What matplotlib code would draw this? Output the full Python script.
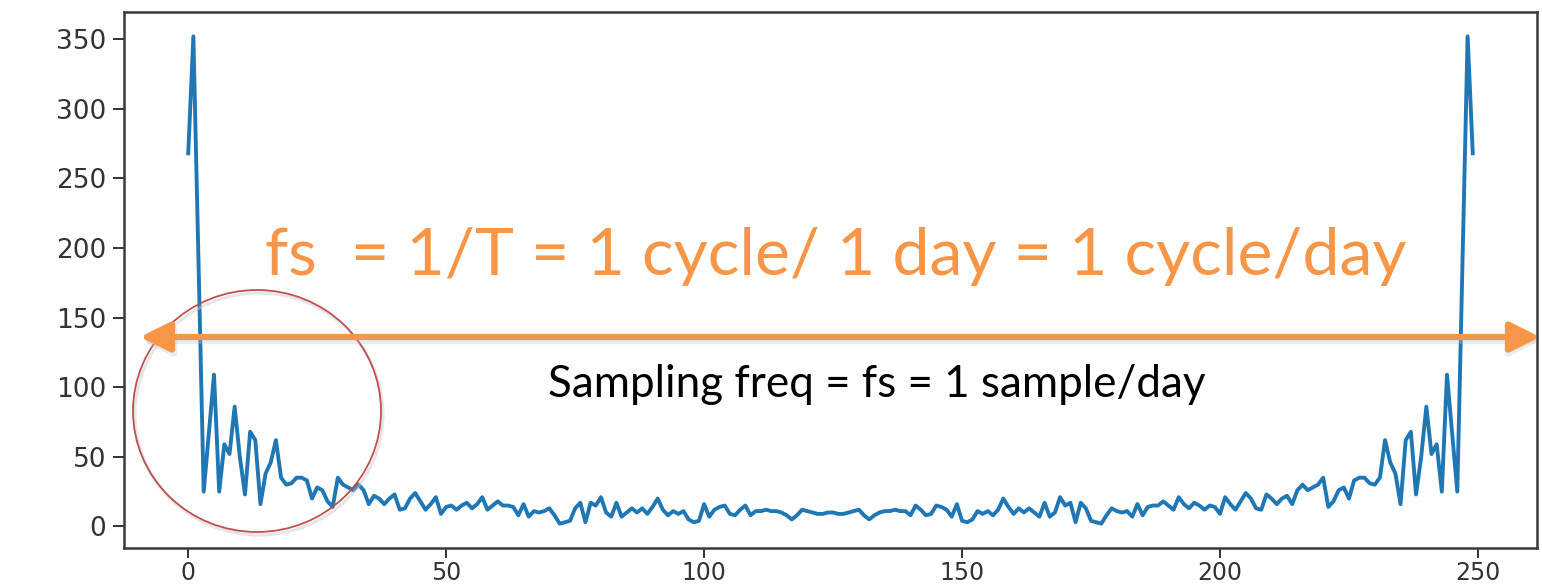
import matplotlib
matplotlib.use("Agg")
import matplotlib.pyplot as plt
from matplotlib.patches import Ellipse, FancyArrowPatch, ArrowStyle
import numpy as np

# Left half of the (mirror-symmetric) spectrum magnitude, index 0..124
half_values = [
    268, 352, 190, 25, 67, 109, 25, 59, 52, 86,
    50, 23, 68, 62, 16, 38, 46, 62, 35, 30,
    31, 35, 35, 33, 20, 28, 26, 18, 14, 35,
    30, 28, 26, 30, 26, 16, 22, 20, 16, 20,
    23, 12, 13, 20, 24, 18, 12, 16, 21, 9,
    14, 15, 12, 15, 17, 13, 16, 21, 12, 15,
    18, 15, 15, 14, 8, 16, 7, 11, 10, 11,
    13, 8, 2, 3, 4, 13, 17, 3, 17, 15,
    21, 10, 7, 17, 7, 10, 13, 10, 13, 9,
    14, 20, 12, 8, 11, 9, 11, 5, 3, 4,
    16, 7, 12, 14, 15, 9, 8, 12, 15, 8,
    11, 11, 12, 11, 11, 10, 8, 5, 8, 12,
    11, 10, 9, 9, 10,
]
values = half_values + half_values[::-1]
freq_index = list(range(len(values)))

x_ticks = [0, 50, 100, 150, 200, 250]
y_ticks = [0, 50, 100, 150, 200, 250, 300, 350]

title_text = "fs  = 1/T = 1 cycle/ 1 day = 1 cycle/day"
note_text = "Sampling freq = fs = 1 sample/day"

W, H = 1542, 587
fig = plt.figure(figsize=(W / 100, H / 100), dpi=100)
ax = fig.add_axes([124 / W, 1 - 548 / H, (1537 - 124) / W, (548 - 12) / H])

ax.plot(freq_index, values, color="#1f77b4", lw=2.8)
ax.set_xticks(x_ticks)
ax.set_yticks(y_ticks)
ax.tick_params(axis="y", labelsize=19, length=8, width=1.4,
               colors="#333333", pad=5)
ax.tick_params(axis="x", labelsize=17, length=7, width=1.4,
               colors="#333333", pad=2)
for s in ax.spines.values():
    s.set_color("#3a3a3a")
    s.set_linewidth(1.8)

def fx(px):
    return px / W

def fy(py):
    return 1 - py / H

# Red circle with faint shadow
shadow = Ellipse((fx(259), fy(414)), 2 * 124 / W, 2 * 121 / H,
                 transform=fig.transFigure, facecolor="none",
                 edgecolor="#c8c8c8", lw=2.2, alpha=0.45)
fig.add_artist(shadow)
circ = Ellipse((fx(257), fy(411)), 2 * 124 / W, 2 * 121 / H,
               transform=fig.transFigure, facecolor="none",
               edgecolor="#C0504D", lw=1.3)
fig.add_artist(circ)

# Orange double arrow with soft shadow
style = ArrowStyle("<|-|>", head_length=0.9, head_width=0.45)
arr_sh = FancyArrowPatch((fx(142), fy(341)), (fx(1540), fy(341)),
                         transform=fig.transFigure, arrowstyle=style,
                         mutation_scale=20, lw=4.5, color="#c0c0c0",
                         alpha=0.3, shrinkA=0, shrinkB=0)
fig.add_artist(arr_sh)
arr = FancyArrowPatch((fx(140), fy(337)), (fx(1540), fy(337)),
                      transform=fig.transFigure, arrowstyle=style,
                      mutation_scale=20, lw=4.5, color="#F79646",
                      shrinkA=0, shrinkB=0)
fig.add_artist(arr)

# Texts, sized to match target widths
t1 = fig.text(fx(265), fy(275), title_text, color="#F79646",
              fontsize=48, family="Lato", ha="left", va="baseline")
t2 = fig.text(fx(548), fy(397), note_text, color="black",
              fontsize=28, family="Lato", ha="left", va="baseline")
fig.canvas.draw()
r = fig.canvas.get_renderer()
for t, target in ((t1, 1405 - 265), (t2, 1205 - 548)):
    w = t.get_window_extent(r).width
    t.set_fontsize(t.get_fontsize() * target / w)

fig.savefig("out.png", dpi=100)
